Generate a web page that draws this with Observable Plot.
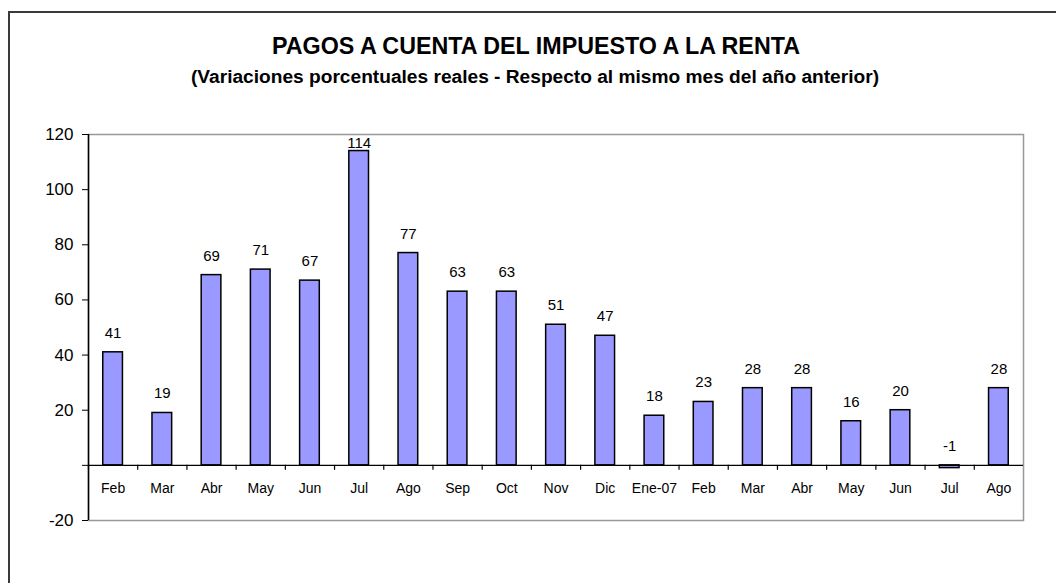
<!DOCTYPE html>
<html>
<head>
<meta charset="utf-8">
<script src="https://cdn.jsdelivr.net/npm/d3@7"></script>
<script src="https://cdn.jsdelivr.net/npm/@observablehq/plot@0.6"></script>
<style>
  html, body { margin: 0; padding: 0; background: #fff; }
  #wrap { position: relative; width: 1056px; height: 583px; overflow: hidden; font-family: Arial, "Liberation Sans", sans-serif; }
  #outer { position: absolute; left: 8px; top: 11px; width: 2000px; height: 2000px; border: 2px solid #3a3a3a; box-sizing: border-box; }
  #head { position: absolute; left: 0; top: 0; }
  #chart { position: absolute; left: 0; top: 100px; }
</style>
</head>
<body>
<div id="wrap">
  <div id="outer"></div>
  <svg id="head" width="1056" height="100">
    <text id="t1" x="536" y="54" text-anchor="middle" font-weight="bold" font-size="23" font-family="Arial, 'Liberation Sans', sans-serif" textLength="528" lengthAdjust="spacingAndGlyphs">PAGOS A CUENTA DEL IMPUESTO A LA RENTA</text>
    <text id="t2" x="535" y="83" text-anchor="middle" font-weight="bold" font-size="17.5" font-family="Arial, 'Liberation Sans', sans-serif" textLength="688" lengthAdjust="spacingAndGlyphs">(Variaciones porcentuales reales - Respecto al mismo mes del año anterior)</text>
  </svg>
  <div id="chart"></div>
</div>
<script>
// Data
const months = ["Feb","Mar","Abr","May","Jun","Jul","Ago","Sep","Oct","Nov","Dic","Ene-07","Feb","Mar","Abr","May","Jun","Jul","Ago"];
const values = [41, 19, 69, 71, 67, 114, 77, 63, 63, 51, 47, 18, 23, 28, 28, 16, 20, -1, 28];
const yTicks = [-20, 0, 20, 40, 60, 80, 100, 120];
const yDomain = [-20, 120];

const data = months.map((m, i) => ({i, month: m, value: values[i]}));
const idx = months.map((m, i) => i);

const W = 1056, H = 483;
const mLeft = 88, mRight = 33, mTop = 34, mBottom = 63;
const step = (W - mLeft - mRight) / months.length;
const labelCap = 110;

const chart = Plot.plot({
  width: W,
  height: H,
  marginLeft: mLeft,
  marginRight: mRight,
  marginTop: mTop,
  marginBottom: mBottom,
  style: {fontFamily: "Arial, 'Liberation Sans', sans-serif", background: "transparent", color: "#000"},
  x: {type: "band", domain: idx, paddingInner: 0.6, paddingOuter: 0.3, round: false, axis: null},
  y: {domain: yDomain, label: null, axis: null},
  marks: [
    Plot.frame({stroke: "#999", strokeWidth: 1.5}),
    Plot.axisY({ticks: yTicks, tickSize: 6, tickPadding: 9, fontSize: 17, stroke: "#000",
      tickFormat: d => d === 0 ? "" : String(d), label: null}),
    Plot.barY(data, {x: "i", y: "value", fill: "#9999FF", stroke: "#000", strokeWidth: 1.5}),
    Plot.ruleY([0], {stroke: "#000", strokeWidth: 1.2}),
    Plot.ruleX(idx, {x: d => d, y1: 0, y2: 0, insetBottom: -5, dx: -step / 2, stroke: "#000", strokeWidth: 1.2}),
    Plot.ruleX([idx[0]], {x: d => d, dx: -step / 2, stroke: "#000", strokeWidth: 1.5}),
    Plot.text(data, {x: "i", y: 0, text: "month", dy: 23, lineAnchor: "middle", fontSize: 14, fill: "#000"}),
    Plot.text(data, {x: "i", y: d => Math.min(Math.max(d.value, 0), labelCap), text: d => String(Math.round(d.value)),
      dy: -14.5, lineAnchor: "bottom", fontSize: 15, fill: "#000"})
  ]
});
document.getElementById("chart").appendChild(chart);
</script>
</body>
</html>
